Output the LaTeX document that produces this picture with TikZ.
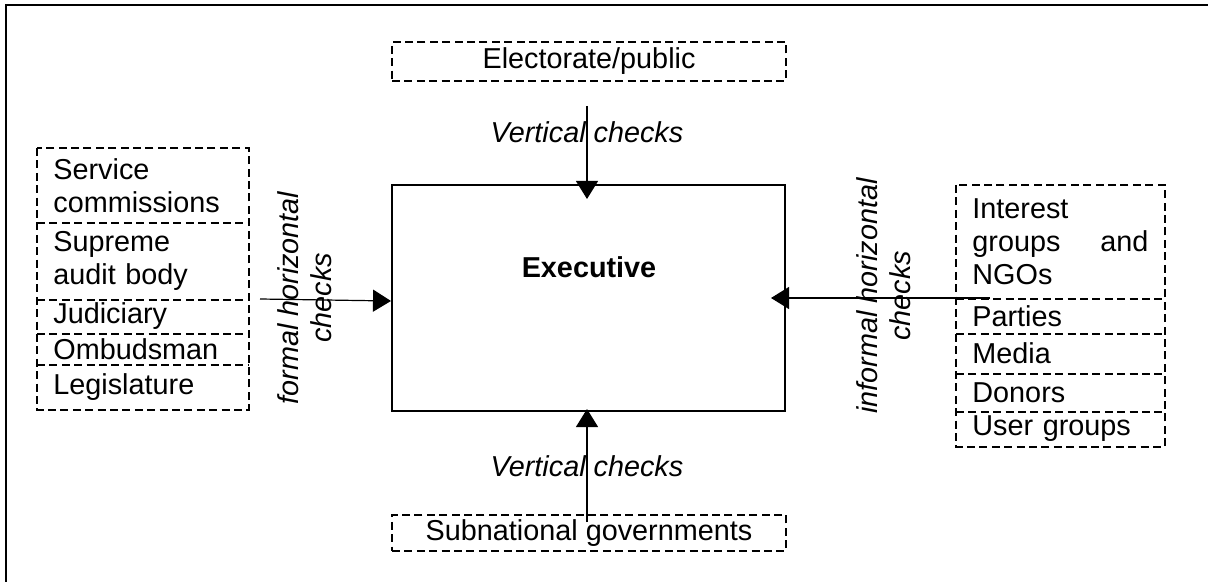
\documentclass[tikz,border=0pt]{standalone}
\usepackage{fontspec}
\setmainfont{Liberation Sans}
\usetikzlibrary{arrows.meta}
\newcommand{\checkfont}{\fontsize{14.4}{16.5}\selectfont}
\tikzset{
  checkline/.style={dash pattern=on 4pt off 2.2pt,line width=0.75pt},
  checkbox/.style={anchor=north west,inner xsep=8pt,inner ysep=0pt,align=left},
  checkarrow/.style={-{Triangle[width=11pt,length=9pt]},line width=0.6pt},
}
\begin{document}
\begin{tikzpicture}[x=0.5pt,y=-0.5pt,font=\checkfont]
   \useasboundingbox (0,0) rectangle (1208,582);
   \draw[line width=1pt] (6,600) -- (6,5) -- (1220,5);
   % centre box
   \node[draw,line width=1pt,minimum width=196.5pt,minimum height=113pt] (exe) at (588.5,298) {};
   \node[font=\checkfont\bfseries] (exetitle) at (589,267) {Executive};
   % top and bottom
   \node[checkbox,checkline,draw,anchor=center,minimum width=197pt,minimum height=19.5pt] (electorate) at (589,61.5) {Electorate/public};
   \node[checkbox,checkline,draw,anchor=center,minimum width=197pt,minimum height=18pt] (subnational) at (589,533) {Subnational governments};
   \node[font=\checkfont\itshape] (vtop) at (587,132) {Vertical checks};
   \node[font=\checkfont\itshape] (vbottom) at (587,466) {Vertical checks};
   % formal checks
   \node[checkbox,text width=89.5pt,minimum height=37pt] (service) at (37,148) {Service\\commissions};
   \node[checkbox,text width=89.5pt,minimum height=38.5pt] (audit) at (37,222) {Supreme\\audit body};
   \node[checkbox,text width=89.5pt,minimum height=17pt] (judiciary) at (37,299) {Judiciary};
   \node[checkbox,text width=89.5pt,minimum height=15.5pt] (ombudsman) at (37,333) {Ombudsman};
   \node[checkbox,text width=89.5pt,minimum height=22.5pt] (legislature) at (37,364) {Legislature};
   \draw[checkline] (service.north west) rectangle (legislature.south east);
   \draw[checkline] (service.south west) -- (service.south east);
   \draw[checkline] (audit.south west) -- (audit.south east);
   \draw[checkline] (judiciary.south west) -- (judiciary.south east);
   \draw[checkline] (ombudsman.south west) -- (ombudsman.south east);
   \node[font=\checkfont\itshape,rotate=90,align=center] (formal) at (305,298) {formal horizontal\\checks};
   % informal checks
   \node[checkbox,text width=88pt,minimum height=56.5pt] (interest) at (956,185) {Interest\\groups\hfill and\\NGOs};
   \node[checkbox,text width=88pt,minimum height=17.5pt] (parties) at (956,298) {Parties};
   \node[checkbox,text width=88pt,minimum height=20pt] (media) at (956,333) {Media};
   \node[checkbox,text width=88pt,minimum height=19pt] (donors) at (956,373) {Donors};
   \node[checkbox,text width=88pt,minimum height=17.5pt] (users) at (956,411) {User groups};
   \draw[checkline] (interest.north west) rectangle (users.south east);
   \draw[checkline] (interest.south west) -- (interest.south east);
   \draw[checkline] (parties.south west) -- (parties.south east);
   \draw[checkline] (media.south west) -- (media.south east);
   \draw[checkline] (donors.south west) -- (donors.south east);
   \node[font=\checkfont\itshape,rotate=90,align=center] (informal) at (884,296) {informal horizontal\\checks};
   % arrows
   \coordinate (topstart) at (587,106);
   \coordinate (botstart) at (587,522);
   \coordinate (leftstart) at (260,299);
   \coordinate (rightstart) at (990,298);
   \draw[checkarrow,shorten >=-7.5pt] (topstart) -- (topstart |- exe.north);
   \draw[checkarrow,shorten >=-1.5pt] (botstart) -- (botstart |- exe.south);
   \draw[checkarrow] (leftstart) -- ([yshift=-1.5pt]exe.west);
   \draw[checkarrow,shorten >=-7.5pt] (rightstart) -- (exe.east);
\end{tikzpicture}
\end{document}
